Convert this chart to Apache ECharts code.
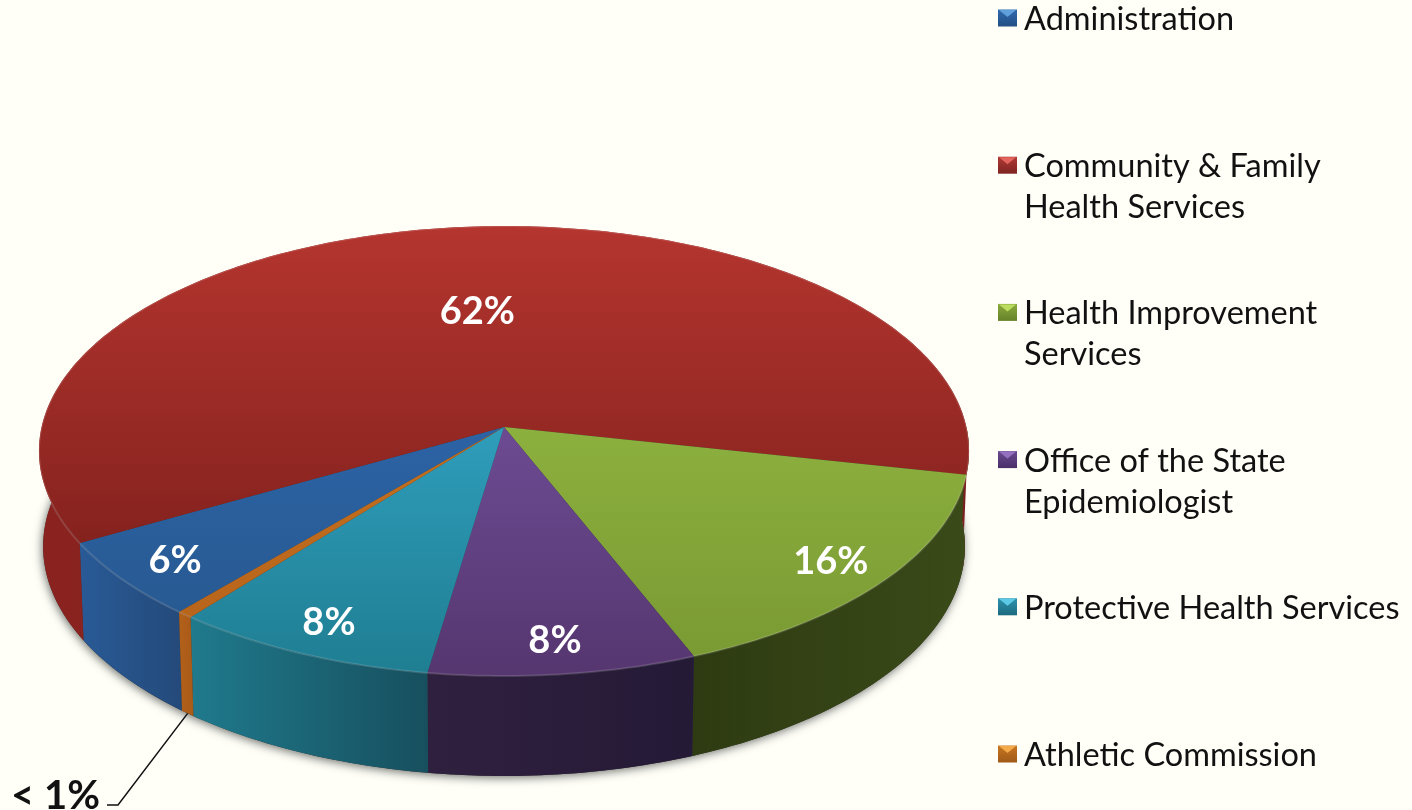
<!DOCTYPE html>
<html>
<head>
<meta charset="utf-8">
<title>Budget share by division</title>
<script src="https://cdn.jsdelivr.net/npm/echarts@6/dist/echarts.min.js"></script>
<style>
  html, body { margin: 0; padding: 0; background: #fffff8; }
  #chart { width: 1412px; height: 810px; }
</style>
</head>
<body>
<div id="chart"></div>
<script>
const categories = ['Administration', 'Community & Family\nHealth Services', 'Health Improvement\nServices', 'Office of the State\nEpidemiologist', 'Protective Health Services', 'Athletic Commission'];
const shares = [5.6, 61.6, 15.6, 8.4, 8.3, 0.5];
// top face light -> dark
const topColors = [['#2c63a5', '#285a92'], ['#b5352f', '#85221e'], ['#8cb03e', '#7a9a33'], ['#6c4b93', '#56366f'], ['#2f9dbb', '#1f7e92'], ['#c4701f', '#b8651c']];
// side wall left -> right
const sideColors = [['#295a96', '#244a7a'], ['#8a2320', '#7a1f1c'], ['#2e3b12', '#3a4a18'], ['#30203f', '#241a36'], ['#1f7a8c', '#174f5e'], ['#b3611a', '#a85a18']];
// legend marker: bevel, body top, body bottom
const markerColors = [['#5f9fdc', '#2f69ad', '#234f85'], ['#e4645e', '#b03a36', '#7f2421'], ['#bcdc60', '#8aab3c', '#66822a'], ['#9670c0', '#6a4a90', '#4a2f6a'], ['#5ccae6', '#2d93ae', '#1c6a7e'], ['#f4aa48', '#c8761f', '#a05a18']];

const startAngle = 130.2; // degrees, clockwise from the right
const cx = 504, cy = 427;
const scaleX = 462.4, scaleY = 222.4, persp = 0.1067; // tilted disc
const wallDrop = 95;

const rad = d => d * Math.PI / 180;

// point on the tilted disc, r = 1 is the rim
function project(deg, r) {
  const x = r * Math.cos(rad(deg)), y = r * Math.sin(rad(deg));
  const d = 1 - persp * y;
  return [cx + scaleX * x / d, cy + scaleY * y / d];
}
// same rim point at the bottom of the wall
function lower(p) {
  return [cx + (p[0] - cx) * 0.991, cy + wallDrop + (p[1] - cy) * 1.02];
}
function arc(a0, a1) {
  const pts = [];
  const n = Math.max(2, Math.ceil(Math.abs(a1 - a0)));
  for (let i = 0; i <= n; i++) pts.push(project(a0 + (a1 - a0) * i / n, 1));
  return pts;
}

let sum = startAngle;
const starts = shares.map(v => { const s = sum; sum += v * 3.6; return s; });

function shareLabel(v) {
  return v < 1 ? '< 1%' : Math.round(v) + '%';
}

function renderSlice(params, api) {
  const i = params.seriesIndex;
  const share = api.value(0);
  const a0 = starts[i], a1 = a0 + share * 3.6;
  const rim = arc(a0, a1);
  const children = [];

  if (i === 0) {
    // soft shadow under the whole pie
    children.push({
      type: 'polygon', z2: 0,
      shape: { points: arc(0, 360).map(lower) },
      style: { fill: '#333', shadowBlur: 10, shadowColor: 'rgba(0,0,0,0.55)', shadowOffsetY: 2, shadowOffsetX: -1 }
    });
  }

  // first slice past the right edge also covers the sliver back to the edge
  const wallFrom = a0 >= 360 && starts[i - 1] < 360 ? 360 : a0;
  const wallRim = arc(wallFrom, a1);
  children.push({
    type: 'polygon', z2: 1,
    shape: { points: wallRim.concat(wallRim.map(lower).reverse()) },
    style: { fill: new echarts.graphic.LinearGradient(0, 0, 1, 0, [
      { offset: 0, color: sideColors[i][0] },
      { offset: 1, color: sideColors[i][1] }
    ]) }
  });
  children.push({
    type: 'polygon', z2: 5,
    shape: { points: [[cx, cy]].concat(rim) },
    style: { fill: new echarts.graphic.LinearGradient(0, 0, 0, 1, [
      { offset: 0, color: topColors[i][0] },
      { offset: 1, color: topColors[i][1] }
    ]) }
  });
  children.push({
    type: 'polyline', z2: 6,
    shape: { points: rim },
    style: { fill: null, stroke: 'rgba(255,255,255,0.14)', lineWidth: 2 }
  });

  const mid = (a0 + a1) / 2;
  if (share >= 1) {
    const pos = share > 50 ? project(mid + 2.5, 0.56) : project(mid, 0.87);
    children.push({
      type: 'text', z2: 10,
      style: {
        text: shareLabel(share), x: pos[0], y: pos[1] + 2, fill: '#fff',
        font: 'bold 38px Lato', align: 'center', verticalAlign: 'middle'
      }
    });
  } else {
    // small slice gets its label outside with a leader line
    const foot = lower(project(mid, 1));
    children.push({
      type: 'polyline', z2: 10,
      shape: { points: [foot, [118, 805], [107, 805]] },
      style: { fill: null, stroke: '#111', lineWidth: 1.5 }
    });
    children.push({
      type: 'text', z2: 10,
      style: {
        text: shareLabel(share), x: 100, y: 796, fill: '#111',
        font: 'bold 40px Lato', align: 'right', verticalAlign: 'middle'
      }
    });
  }
  return { type: 'group', children: children };
}

// legend is drawn by hand: markers line up with the first text line
const legendGraphic = [];
categories.forEach((name, i) => {
  const y = 18 + i * 147.2;
  legendGraphic.push({
    type: 'rect', silent: true,
    shape: { x: 998, y: y - 8.5, width: 19, height: 17 },
    style: { fill: new echarts.graphic.LinearGradient(0, 0, 0, 1, [
      { offset: 0, color: markerColors[i][1] },
      { offset: 1, color: markerColors[i][2] }
    ]) }
  });
  legendGraphic.push({
    type: 'polygon', silent: true,
    shape: { points: [[999, y - 8], [1016, y - 8], [1007.5, y - 1]] },
    style: { fill: markerColors[i][0] }
  });
  legendGraphic.push({
    type: 'text', silent: true,
    style: {
      text: name, x: 1024, y: y - 19, fill: '#111',
      font: '32.5px Lato', lineHeight: 41, align: 'left', verticalAlign: 'top'
    }
  });
});

const chart = echarts.init(document.getElementById('chart'));
chart.setOption({
  backgroundColor: '#fffff8',
  animation: false,
  graphic: legendGraphic,
  series: categories.map((name, i) => ({
    name: name,
    type: 'custom',
    coordinateSystem: 'none',
    silent: true,
    renderItem: renderSlice,
    data: [[shares[i]]]
  }))
});
window.addEventListener('resize', chart.resize);
</script>
</body>
</html>
